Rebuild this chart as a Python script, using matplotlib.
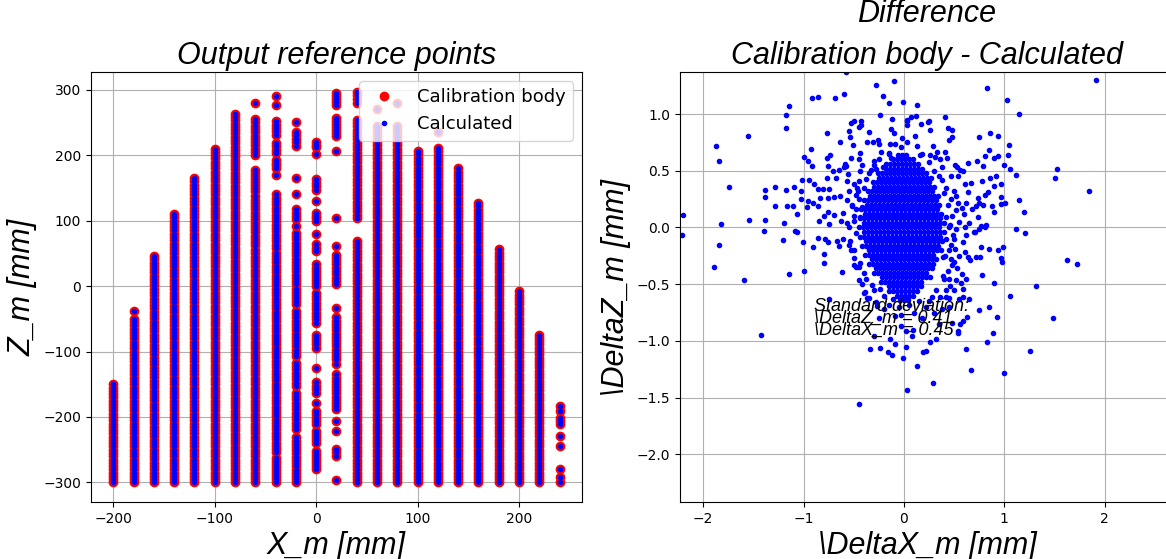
import numpy as np
import matplotlib.pyplot as plt

# columns of the calibration body (X position in mm)
col_x = [-200, -180, -160, -140, -120, -100, -80, -60, -40, -20, 0, 20,
         40, 60, 80, 100, 120, 140, 160, 180, 200, 220, 240]

# continuous runs of reference points in each column, (top, bottom) in mm
col_runs = [
    [(-150, -300)],
    [(-38, -38), (-50, -300)],
    [(46, -300)],
    [(110, -300)],
    [(165, -300)],
    [(210, -300)],
    [(263, -300)],
    [(280, 280), (255, 200), (178, 145), (137, 62), (55, -300)],
    [(290, 290), (276, 276), (252, 231), (219, 203), (193, 180), (170, 170),
     (140, 58), (51, -254), (-262, -300)],
    [(250, 250), (236, 214), (165, 165), (140, 140), (117, 102), (91, 91),
     (81, 3), (-5, -28), (-38, -107), (-117, -153), (-163, -219), (-231, -300)],
    [(220, 212), (201, 201), (163, 147), (130, 130), (112, 99), (79, 79),
     (64, 53), (33, 0), (-10, -56), (-74, -94), (-125, -125), (-147, -163),
     (-178, -178), (-191, -211), (-221, -239), (-252, -280)],
    [(295, 277), (257, 229), (206, 206), (104, 104), (61, 61), (48, 3),
     (-33, -33), (-48, -112), (-119, -119), (-135, -188), (-206, -206),
     (-221, -221), (-249, -259), (-297, -297)],
    [(297, 280), (254, 104), (69, -300)],
    [(270, 270), (245, -300)],
    [(280, 280), (245, -300)],
    [(206, -300)],
    [(236, 236), (211, -300)],
    [(180, -300)],
    [(127, -300)],
    [(56, -300)],
    [(-8, -300)],
    [(-74, -300)],
    [(-183, -183), (-191, -191), (-201, -211), (-229, -229), (-244, -244),
     (-280, -280), (-292, -292), (-300, -300)],
]
pitch = 5  # spacing of points along a run, mm

# difference body - calculated (DeltaX_m, DeltaZ_m), scattered points
diff_pts = [
    (-0.58, 1.37), (-0.28, 1.26), (-0.10, 1.29), (-0.21, 1.16), (-0.15, 1.10),
    (-0.01, 1.11), (-0.92, 1.14), (-0.86, 1.15), (-0.69, 1.14), (-0.60, 1.18),
    (-1.14, 1.07), (-1.17, 0.99), (-1.17, 0.88), (-1.55, 0.81), (-1.87, 0.72),
    (-1.84, 0.59), (-1.74, 0.36), (-2.20, 0.11), (-1.82, 0.03), (-1.54, 0.07),
    (-1.38, 0.33), (-1.38, 0.27), (-1.28, 0.19), (-1.28, 0.36), (-1.17, 0.33),
    (-1.16, 0.19), (-1.10, 0.19), (-1.06, 0.12), (-1.09, 0.36), (-1.02, 0.42),
    (-1.03, 0.32), (-1.03, 0.25), (-0.96, 0.23), (-0.97, 0.18), (-0.91, 0.22),
    (-0.90, 0.38), (-0.95, 0.42), (-0.86, 0.34), (-0.81, 0.34), (-0.77, 0.44),
    (-0.75, 0.34), (-0.84, 0.26), (-0.76, 0.26), (-0.86, 0.19), (-0.70, 0.27),
    (-0.64, 0.28), (-0.85, 0.06), (-0.80, 0.10), (-0.76, 0.14), (-0.70, 0.11),
    (-0.61, 0.13), (-0.71, 0.50), (-0.76, 0.54), (-0.77, 0.61), (-0.74, 0.64),
    (-0.65, 0.51), (-0.58, 0.54), (-0.68, 0.44), (-0.93, 0.69), (-1.00, 0.62),
    (-0.96, 0.59), (-0.92, 0.54), (-0.77, 0.83), (-0.64, 0.75), (-0.55, 0.85),
    (-0.54, 0.80), (-0.51, 0.73), (-0.53, 0.92), (-0.50, 0.94), (-0.43, 0.94),
    (-0.43, 0.90), (-0.45, 0.89), (-0.35, 0.84), (-0.37, 0.75), (-0.31, 0.75),
    (-0.26, 0.77), (-0.25, 0.74), (-0.24, 0.99), (-0.12, 0.96), (-0.13, 0.87),
    (-0.10, 0.83), (-0.02, 0.79), (0.03, 0.95), (-0.44, 0.66), (-0.45, 0.60),
    (-0.53, 0.61), (-0.59, 0.56), (-0.60, 0.53), (-0.42, 0.55), (-0.44, 0.50),
    (-0.30, 0.59), (-0.23, 0.67), (-0.21, 0.53), (-0.15, 0.66), (-0.13, 0.61),
    (-0.14, 0.74), (-0.09, 0.74), (-0.03, 0.71), (-0.33, 0.51), (-0.28, 0.52),
    (-0.56, 0.47), (-0.57, 0.41), (-0.50, 0.38), (-0.45, 0.41), (-0.47, 0.35),
    (-0.55, 0.32), (-0.48, 0.29), (-0.57, 0.24), (-0.52, 0.19), (-0.48, 0.16),
    (-0.42, 0.18), (-0.44, 0.09), (-0.50, 0.06), (-0.57, 0.04), (-0.63, 0.06),
    (-0.75, 0.03), (-1.38, 0.07), (-1.19, 0.04),
    (1.91, 1.30), (0.83, 1.23), (1.03, 1.12), (1.15, 1.00), (0.13, 1.08),
    (0.41, 0.97), (0.12, 0.98), (0.07, 0.97), (0.03, 0.94), (0.03, 0.90),
    (0.17, 0.91), (0.24, 0.93), (0.25, 0.94), (0.26, 0.86), (0.44, 0.88),
    (0.48, 0.86), (0.48, 0.80), (0.45, 0.77), (0.75, 0.80), (0.86, 0.83),
    (0.94, 0.81), (1.05, 0.73), (1.04, 0.64), (0.85, 0.68), (0.81, 0.63),
    (0.90, 0.61), (0.94, 0.63), (1.00, 0.55), (1.06, 0.52), (1.12, 0.46),
    (0.73, 0.59), (0.64, 0.57), (0.79, 0.54), (0.59, 0.50), (0.78, 0.41),
    (0.86, 0.44), (0.92, 0.45), (0.97, 0.38), (0.90, 0.37), (0.84, 0.31),
    (0.81, 0.29), (0.97, 0.27), (1.01, 0.22), (0.97, 0.21), (1.15, 0.24),
    (1.20, 0.14), (1.12, -0.01), (1.21, -0.05), (1.52, 0.52), (1.50, 0.44),
    (1.84, 0.32), (0.29, 0.72), (0.33, 0.67), (0.41, 0.67), (0.43, 0.61),
    (0.31, 0.62), (0.36, 0.60), (0.51, 0.55), (0.53, 0.53), (0.56, 0.51),
    (0.13, 0.72), (0.11, 0.81), (0.03, 0.75), (0.16, 0.64), (0.26, 0.64),
    (0.38, 0.53), (0.47, 0.45), (0.54, 0.45), (0.61, 0.38), (0.67, 0.39),
    (0.64, 0.31), (0.74, 0.26), (0.75, 0.22), (0.72, 0.19), (0.79, 0.20),
    (0.88, 0.19), (0.90, 0.14), (0.74, 0.09), (0.68, 0.16), (0.62, 0.22),
    (0.58, 0.17), (0.60, 0.12), (0.52, 0.28), (0.50, 0.32), (0.54, 0.22),
    (0.65, 0.04), (0.61, 0.00), (0.70, -0.04), (0.77, 0.01), (0.82, 0.02),
    (0.46, 0.02), (0.52, -0.01), (0.42, 0.09),
    (-2.21, -0.07), (-1.84, -0.15), (-1.89, -0.35), (-1.59, -0.46),
    (-1.42, -0.95), (-1.39, -0.03), (-1.20, -0.11), (-1.14, -0.41),
    (-1.00, -0.38), (-1.08, -0.03), (-1.06, -0.04), (-1.01, -0.13),
    (-0.91, -0.17), (-0.86, -0.09), (-0.79, -0.10), (-0.76, -0.13),
    (-0.80, -0.23), (-0.80, -0.31), (-0.67, -0.12), (-0.65, -0.16),
    (-0.61, -0.10), (-0.62, -0.39), (-0.55, -0.15), (-0.53, -0.20),
    (-0.50, -0.33), (-0.48, -0.35), (-0.44, -0.31), (-0.40, -0.40),
    (-0.45, -0.46), (-0.39, -0.57), (-0.35, -0.62), (-0.34, -1.07),
    (-0.24, -1.06), (-0.16, -1.10), (-0.12, -1.12), (-0.09, -1.03),
    (-0.01, -1.15), (-0.45, -1.56), (0.03, -1.43), (-0.30, -0.96),
    (-0.14, -0.98), (-0.03, -0.87), (-0.32, -0.51), (-0.27, -0.69),
    (-0.24, -0.54), (-0.11, -0.63), (-0.75, -0.63), (-0.09, -0.78),
    (-0.03, -0.77), (0.09, -0.90), (0.02, -0.91), (-0.40, -0.58),
    (-0.37, -0.62),
    (0.76, -0.26), (0.99, -0.17), (0.94, -0.20), (0.85, -0.19), (0.77, -0.17),
    (0.97, -0.27), (0.98, -0.30), (1.62, -0.29), (1.72, -0.32), (0.72, -0.26),
    (0.66, -0.29), (0.64, -0.26), (0.78, -0.42), (0.90, -0.49), (1.32, -0.52),
    (1.06, -0.60), (0.85, -0.70), (0.75, -0.73), (0.93, -0.79), (1.48, -0.80),
    (0.89, -0.93), (0.83, -1.01), (1.26, -1.09), (1.00, -1.28), (0.67, -1.26),
    (0.62, -1.07), (0.29, -1.37), (0.13, -1.22), (0.02, -1.05), (0.19, -1.10),
    (0.22, -1.09), (0.26, -1.01), (0.32, -0.98), (0.08, -0.96), (0.54, -0.93),
    (0.54, -0.91), (0.56, -0.85), (0.59, -0.82), (0.63, -0.79), (0.48, -0.84),
    (0.65, -0.63), (0.59, -0.61), (0.55, -0.63), (0.59, -0.54), (0.57, -0.49),
    (0.52, -0.46), (0.46, -0.52), (0.42, -0.61), (0.36, -0.61), (0.28, -0.61),
    (0.39, -0.43), (0.44, -0.38), (0.62, -0.45), (0.58, -0.41), (0.48, -0.33),
    (0.41, -0.25), (0.47, -0.15), (0.51, -0.19), (0.61, -0.22), (0.71, -0.04),
    (0.75, -0.01), (0.81, 0.00), (0.59, -0.13), (0.62, -0.07), (0.49, -0.07),
    (0.39, -0.26), (0.53, -0.36), (0.45, -0.45), (0.45, -0.62),
    (0.15, -0.65), (0.22, -0.70), (0.05, -0.68), (-0.05, -0.70), (0.30, -0.75),
    (0.38, -0.72), (0.18, -0.80), (0.10, -0.75), (-0.20, -0.72), (-0.25, -0.80),
    (0.35, -0.85), (0.45, -0.70), (0.42, -0.55), (0.50, -0.55), (0.55, -0.25),
    (0.50, -0.30), (0.45, -0.20), (0.42, -0.10), (0.45, 0.00), (0.48, 0.10),
    (0.44, 0.20), (0.40, 0.30), (0.38, 0.42), (0.30, 0.50), (0.25, 0.58),
    (0.18, 0.65), (-0.15, 0.65), (-0.25, 0.60), (-0.35, 0.48), (-0.40, 0.35),
    (-0.45, 0.25), (-0.50, 0.10), (-0.48, -0.05), (-0.50, -0.20), (-0.45, -0.35),
    (-0.38, -0.45), (-0.30, -0.55), (-0.20, -0.60),
    (0.35, 0.45), (0.42, 0.35), (0.47, 0.25), (0.52, 0.15), (0.55, 0.05),
    (0.50, -0.10), (0.47, -0.28), (0.40, -0.45), (0.32, -0.55), (0.25, -0.65),
    (-0.30, 0.55), (-0.38, 0.43), (-0.46, 0.32), (-0.52, 0.20), (-0.55, 0.00),
    (-0.54, -0.12), (-0.50, -0.27), (-0.42, -0.50), (-0.28, -0.66), (-0.15, -0.68),
]

# solid core of the difference cloud, rows of (DeltaZ_m, left DeltaX_m, right DeltaX_m)
core_rows = [
    (0.64, -0.06, 0.04), (0.60, -0.13, 0.10), (0.56, -0.18, 0.16),
    (0.52, -0.20, 0.21), (0.48, -0.26, 0.22), (0.44, -0.27, 0.27),
    (0.40, -0.31, 0.27), (0.36, -0.32, 0.31), (0.32, -0.36, 0.30),
    (0.28, -0.36, 0.35), (0.24, -0.40, 0.34), (0.20, -0.39, 0.38),
    (0.16, -0.43, 0.36), (0.12, -0.41, 0.40), (0.08, -0.44, 0.37),
    (0.04, -0.42, 0.41), (0.00, -0.45, 0.38), (-0.04, -0.42, 0.40),
    (-0.08, -0.44, 0.37), (-0.12, -0.40, 0.39), (-0.16, -0.42, 0.35),
    (-0.20, -0.37, 0.37), (-0.24, -0.39, 0.32), (-0.28, -0.34, 0.34),
    (-0.32, -0.35, 0.29), (-0.36, -0.30, 0.30), (-0.40, -0.30, 0.25),
    (-0.44, -0.24, 0.26), (-0.48, -0.23, 0.20), (-0.52, -0.17, 0.20),
    (-0.56, -0.15, 0.14), (-0.60, -0.09, 0.12), (-0.64, -0.04, 0.06),
]
core_pitch = 0.04  # spacing of points along a core row

std_dz = 0.41
std_dx = 0.45


body_x = []
body_z = []
for x, runs in zip(col_x, col_runs):
    for top, bottom in runs:
        n = int(round((top - bottom) / pitch)) + 1
        body_x += [x] * n
        body_z += list(np.linspace(top, bottom, n))

dx = [p[0] for p in diff_pts]
dz = [p[1] for p in diff_pts]
for i, (z, left, right) in enumerate(core_rows):
    xs = np.arange(left + (i % 2) * core_pitch / 2, right + 1e-6, core_pitch)
    dx += list(xs)
    dz += [z] * len(xs)

font = {'family': 'Liberation Sans', 'style': 'italic', 'size': 22}

fig = plt.figure(figsize=(11.66, 5.59), dpi=100)
ax1 = fig.add_axes([0.078, 0.102, 0.4211, 0.769])
ax2 = fig.add_axes([0.5832, 0.102, 0.4237, 0.769])

ax1.plot(body_x, body_z, 'ro', label='Calibration body')
ax1.plot(body_x, body_z, 'b.', label='Calculated')
ax1.set_title('Output reference points', fontdict=font)
ax1.set_xlabel('X_m [mm]', fontdict=font)
ax1.set_ylabel('Z_m [mm]', fontdict=font)
ax1.grid(True)
ax1.legend(loc='upper right', fontsize=13)

ax2.plot(dx, dz, 'b.')
ax2.set_title('Difference\nCalibration body - Calculated', fontdict=font,
              linespacing=1.5)
ax2.set_xlabel('\\DeltaX_m [mm]', fontdict=font)
ax2.set_ylabel('\\DeltaZ_m [mm]', fontdict=font)
ax2.set_xlim(-2.23, 2.69)
ax2.set_ylim(-2.42, 1.37)
ax2.set_yticks([-2.0, -1.5, -1.0, -0.5, 0.0, 0.5, 1.0])
ax2.grid(True)
ax2.text(-0.9, -0.8,
         'Standard deviation:\n\\DeltaZ_m = %.2f\n\\DeltaX_m = %.2f' % (std_dz, std_dx),
         family='Liberation Sans', style='italic', size=13,
         ha='left', va='center', linespacing=0.6)

fig.savefig('out.png', dpi=100)
